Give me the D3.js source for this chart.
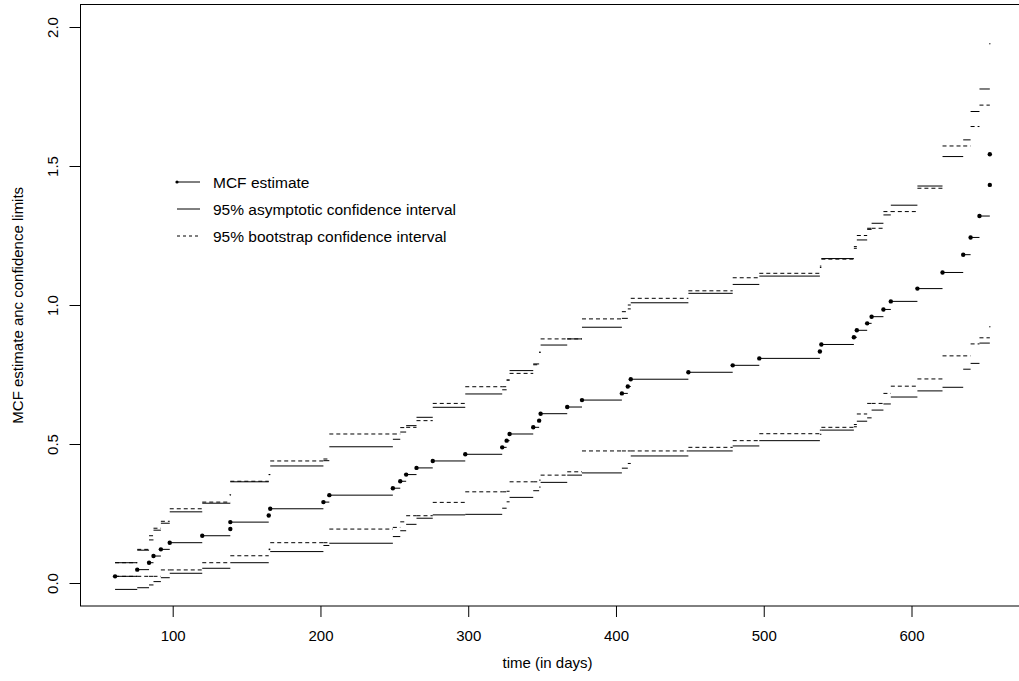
<!DOCTYPE html>
<html>
<head>
<meta charset="utf-8">
<script src="https://cdn.jsdelivr.net/npm/d3@7"></script>
<style>
  body { margin: 0; background: #fff; }
  text { font-family: "Liberation Sans", Arial, Helvetica, sans-serif; fill: #000; }
</style>
</head>
<body>
<svg id="chart" width="1019" height="681"></svg>
<script>
// event times (days) and MCF value after each event
const eventDays = [61, 76, 84, 87, 92, 98, 120, 139, 139, 165,
  166, 202, 206, 249, 254, 258, 265, 276, 298, 323,
  326, 328, 344, 348, 349, 367, 377, 404, 408, 410,
  449, 479, 497, 538, 539, 561, 563, 570, 573, 581,
  586, 604, 621, 635, 640, 646, 653, 653];

const mcf = [0.024, 0.048, 0.073, 0.097, 0.121, 0.145, 0.170, 0.194, 0.219, 0.243,
  0.267, 0.291, 0.316, 0.341, 0.366, 0.390, 0.414, 0.439, 0.463, 0.488,
  0.512, 0.536, 0.560, 0.584, 0.609, 0.633, 0.658, 0.682, 0.707, 0.733,
  0.758, 0.783, 0.808, 0.833, 0.858, 0.884, 0.909, 0.934, 0.958, 0.984,
  1.013, 1.059, 1.117, 1.181, 1.243, 1.320, 1.432, 1.542];

const asymUpper = [0.073, 0.118, 0.155, 0.190, 0.215, 0.256, 0.287, 0.317, 0.364, 0.390,
  0.421, 0.440, 0.490, 0.517, 0.543, 0.566, 0.596, 0.632, 0.680, 0.695,
  0.730, 0.764, 0.788, 0.830, 0.856, 0.878, 0.920, 0.952, 0.986, 1.008,
  1.042, 1.074, 1.104, 1.135, 1.167, 1.204, 1.234, 1.272, 1.294, 1.324,
  1.359, 1.428, 1.534, 1.594, 1.696, 1.777, null, null];

const asymLower = [-0.023, -0.017, -0.007, 0.005, 0.019, 0.035, 0.053, null, 0.073, 0.122,
  0.113, 0.135, 0.143, 0.167, 0.188, 0.211, 0.233, 0.245, 0.247, 0.269,
  0.292, 0.308, 0.332, 0.345, 0.362, 0.388, 0.396, 0.413, 0.430, 0.457,
  0.475, 0.493, 0.512, 0.535, 0.550, 0.562, 0.582, 0.594, 0.622, 0.644,
  0.669, 0.691, 0.704, 0.769, 0.790, 0.863, null, null];

const bootUpper = [0.073, 0.121, 0.170, 0.197, 0.222, 0.267, 0.291, 0.317, 0.366, 0.390,
  0.439, 0.446, 0.536, 0.536, 0.559, 0.560, 0.584, 0.646, 0.706, 0.706,
  0.730, 0.754, 0.785, 0.830, 0.878, 0.878, 0.950, 0.976, 1.000, 1.024,
  1.051, 1.098, 1.114, 1.140, 1.165, 1.210, 1.250, 1.276, 1.276, 1.336,
  1.336, 1.420, 1.572, 1.572, 1.642, 1.719, 1.940, null];

const bootLower = [0.024, 0.024, 0.024, 0.024, 0.047, 0.047, 0.073, null, 0.098, 0.120,
  0.145, 0.145, 0.194, 0.200, 0.220, 0.242, 0.242, 0.290, 0.328, 0.328,
  0.330, 0.364, 0.364, 0.370, 0.388, 0.400, 0.475, 0.475, 0.475, 0.475,
  0.488, 0.512, 0.537, 0.550, 0.560, 0.570, 0.608, 0.646, 0.646, 0.682,
  0.708, 0.734, 0.817, 0.817, 0.860, 0.882, 0.922, null];

const xTicks = [100, 200, 300, 400, 500, 600];
const yTicks = [0, 0.5, 1, 1.5, 2];

const legendLabels = ["MCF estimate", "95% asymptotic confidence interval", "95% bootstrap confidence interval"];

const svg = d3.select("#chart");

const boxLeft = 80, boxRight = 1030, boxTop = 4.5, boxBottom = 606;

const x = d3.scaleLinear().domain([100, 600]).range([172.7, 911.5]);
const y = d3.scaleLinear().domain([0, 2]).range([583, 27]);

// plot box
svg.append("rect")
  .attr("x", boxLeft + 0.5)
  .attr("y", boxTop)
  .attr("width", boxRight - boxLeft)
  .attr("height", boxBottom - boxTop)
  .attr("fill", "none")
  .attr("stroke", "#000")
  .attr("stroke-width", 1);

// axes
const xAxis = d3.axisBottom(x).tickValues(xTicks).tickSize(11).tickPadding(13).tickFormat(d3.format("d"));
const gx = svg.append("g").attr("transform", `translate(0,${boxBottom})`).call(xAxis);
gx.select(".domain").remove();
gx.selectAll("text").attr("font-size", 15).attr("font-family", "Liberation Sans, Arial, sans-serif");

const yAxis = d3.axisLeft(y).tickValues(yTicks).tickSize(11).tickFormat(d3.format(".1f"));
const gy = svg.append("g").attr("transform", `translate(${boxLeft + 0.5},0)`).call(yAxis);
gy.select(".domain").remove();
gy.selectAll("text")
  .attr("font-size", 15)
  .attr("font-family", "Liberation Sans, Arial, sans-serif")
  .attr("text-anchor", "middle")
  .attr("x", 0).attr("dy", 0)
  .attr("transform", "translate(-28,0) rotate(-90)")
  .attr("dominant-baseline", "central");

svg.append("text")
  .attr("x", (boxLeft + 1015) / 2)
  .attr("y", 668)
  .attr("text-anchor", "middle")
  .attr("font-size", 15)
  .text("time (in days)");

svg.append("text")
  .attr("transform", `translate(17,${(boxTop + boxBottom) / 2}) rotate(-90)`)
  .attr("text-anchor", "middle")
  .attr("dominant-baseline", "central")
  .attr("font-size", 15)
  .text("MCF estimate anc confidence limits");

// step segments for a series
const steps = (vals) => d3.range(eventDays.length - 1)
  .filter(i => vals[i] !== null)
  .map(i => ({ x1: eventDays[i], x2: eventDays[i + 1], v: vals[i] }));

const plot = svg.append("g");

function drawSteps(vals, dash) {
  const segs = steps(vals);
  plot.selectAll(null)
    .data(segs.filter(d => d.x2 > d.x1))
    .enter()
    .append("line")
    .attr("x1", d => x(d.x1))
    .attr("x2", d => x(d.x2))
    .attr("y1", d => y(d.v))
    .attr("y2", d => y(d.v))
    .attr("stroke", "#000")
    .attr("stroke-width", 1)
    .attr("stroke-dasharray", dash);
  // zero-length steps show up only as a dot
  plot.selectAll(null)
    .data(segs.filter(d => d.x2 === d.x1))
    .enter()
    .append("circle")
    .attr("cx", d => x(d.x1))
    .attr("cy", d => y(d.v))
    .attr("r", 0.8)
    .attr("fill", "#444");
}

drawSteps(asymUpper, null);
drawSteps(asymLower, null);
drawSteps(bootUpper, "4,3");
drawSteps(bootLower, "4,3");
drawSteps(mcf, null);

plot.selectAll(".pt")
  .data(eventDays)
  .enter()
  .append("circle")
  .attr("class", "pt")
  .attr("cx", d => x(d))
  .attr("cy", (d, i) => y(mcf[i]))
  .attr("r", 2.2)
  .attr("fill", "#000");

// legend
const lg = svg.append("g");
const rowY = [182, 209, 236];
legendLabels.forEach((label, i) => {
  lg.append("line")
    .attr("x1", 177).attr("x2", 200)
    .attr("y1", rowY[i]).attr("y2", rowY[i])
    .attr("stroke", "#000")
    .attr("stroke-width", 1)
    .attr("stroke-dasharray", i === 2 ? "3,3" : null);
  lg.append("text")
    .attr("x", 213)
    .attr("y", rowY[i])
    .attr("dominant-baseline", "central")
    .attr("font-size", 15.5)
    .text(label);
});
lg.append("circle").attr("cx", 177).attr("cy", rowY[0]).attr("r", 1.6).attr("fill", "#000");
</script>
</body>
</html>
